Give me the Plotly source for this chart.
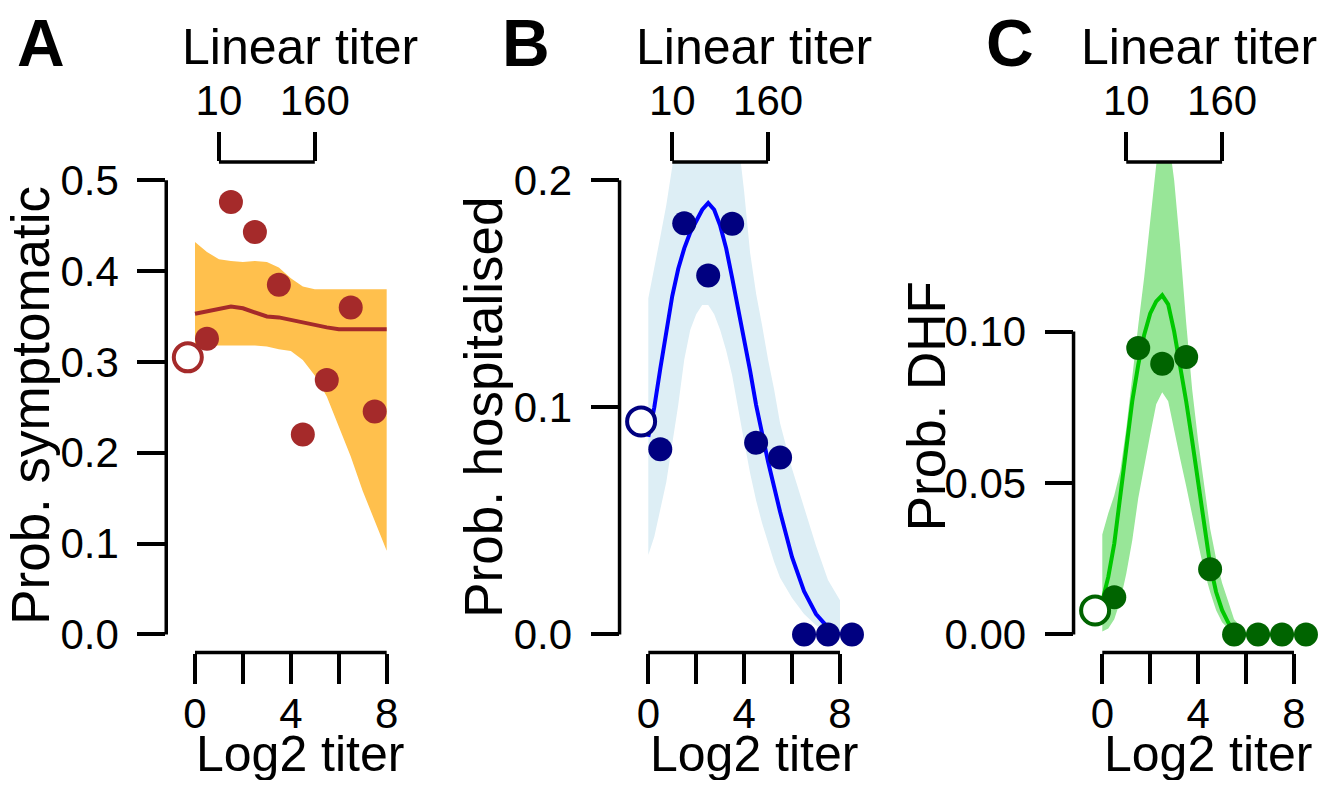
import plotly.graph_objects as go

# The page body has an 8px margin; the figure is sized to fit inside it.
PAGE_W, PAGE_H = 1328, 788
OFF = 8
W, H = PAGE_W - 2 * OFF, PAGE_H - 2 * OFF

# ---------------- data ----------------
pts_x_a = [0.5, 1.5, 2.5, 3.5, 4.5, 5.5, 6.5, 7.5]
pts_x_bc = [0.5, 1.5, 2.5, 3.5, 4.5, 5.5, 6.5, 7.5, 8.5]
open_x = [-0.3]

a_pts = [0.3255, 0.476, 0.443, 0.385, 0.220, 0.280, 0.360, 0.2455]
a_open = [0.305]
b_pts = [0.0815, 0.181, 0.158, 0.1808, 0.0844, 0.0779, 0.0, 0.0, 0.0]
b_open = [0.0938]
c_pts = [0.0123, 0.0946, 0.0894, 0.0916, 0.0215, 0.0, 0.0, 0.0, 0.0]
c_open = [0.0079]

a_grid = [0, 0.5, 1, 1.5, 2, 2.5, 3, 3.5, 4, 4.5, 5, 5.5, 6, 6.5, 7, 7.5, 8]
a_upper = [0.432, 0.421, 0.413, 0.411, 0.410, 0.411, 0.410, 0.404, 0.392, 0.383, 0.380,
           0.380, 0.380, 0.380, 0.380, 0.380, 0.380]
a_lower = [0.318, 0.318, 0.318, 0.318, 0.318, 0.318, 0.317, 0.314, 0.312, 0.302, 0.285,
           0.262, 0.229, 0.196, 0.158, 0.124, 0.092]
a_mean = [0.353, 0.356, 0.359, 0.361, 0.359, 0.355, 0.350, 0.349, 0.346, 0.344, 0.341,
          0.338, 0.336, 0.336, 0.336, 0.336, 0.336]

bc_grid = [0, 0.25, 0.5, 0.75, 1, 1.25, 1.5, 1.75, 2, 2.25, 2.5, 2.75, 3, 3.25, 3.5,
           3.75, 4, 4.25, 4.5, 4.75, 5, 5.25, 5.5, 6, 6.5, 7, 7.5, 8]
b_mean = [0.087, 0.100, 0.117, 0.133, 0.149, 0.161, 0.170, 0.177, 0.182, 0.187, 0.190,
          0.187, 0.180, 0.170, 0.157, 0.144, 0.131, 0.116, 0.101, 0.088, 0.076, 0.065,
          0.054, 0.034, 0.019, 0.009, 0.003, 0.000]
b_upper = [0.148, 0.161, 0.175, 0.189, 0.207, 0.225, 0.240, 0.250, 0.255, 0.258, 0.258,
           0.255, 0.250, 0.240, 0.230, 0.218, 0.195, 0.168, 0.150, 0.136, 0.121, 0.108,
           0.093, 0.073, 0.056, 0.039, 0.024, 0.015]
b_lower = [0.035, 0.043, 0.055, 0.067, 0.083, 0.101, 0.121, 0.134, 0.141, 0.145, 0.145,
           0.141, 0.134, 0.125, 0.114, 0.100, 0.085, 0.071, 0.059, 0.049, 0.040, 0.032,
           0.025, 0.016, 0.009, 0.004, 0.001, 0.000]
c_mean = [0.011, 0.019, 0.030, 0.046, 0.062, 0.077, 0.089, 0.099, 0.106, 0.110, 0.112,
          0.109, 0.100, 0.089, 0.077, 0.064, 0.051, 0.037, 0.023, 0.014, 0.008, 0.004,
          0.001, 0.000, 0.000, 0.000, 0.000, 0.000]
c_upper = [0.033, 0.040, 0.046, 0.054, 0.068, 0.086, 0.102, 0.118, 0.137, 0.155, 0.168,
           0.165, 0.150, 0.128, 0.103, 0.081, 0.064, 0.049, 0.035, 0.025, 0.017, 0.011,
           0.005, 0.0005, 0.0, 0.0, 0.0, 0.0]
c_lower = [0.001, 0.002, 0.005, 0.011, 0.020, 0.031, 0.045, 0.056, 0.066, 0.076, 0.080,
           0.077, 0.068, 0.058, 0.049, 0.040, 0.030, 0.021, 0.014, 0.008, 0.004, 0.002,
           0.001, 0.0, 0.0, 0.0, 0.0, 0.0]

x_ticks = [0, 2, 4, 6, 8]
x_ticktext = ["0", "", "4", "", "8"]
top_ticks = [1, 5]
top_ticktext = ["10", "160"]
a_yticks = [0, 0.1, 0.2, 0.3, 0.4, 0.5]
a_yticktext = ["0.0", "0.1", "0.2", "0.3", "0.4", "0.5"]
b_yticks = [0, 0.1, 0.2]
b_yticktext = ["0.0", "0.1", "0.2"]
c_yticks = [0, 0.05, 0.10]
c_yticktext = ["0.00", "0.05", "0.10"]

ylabels = ["Prob. symptomatic", "Prob. hospitalised", "Prob. DHF"]
letters = ["A", "B", "C"]

# ---------------- styling ----------------
FONT = "Liberation Sans, Arial, Helvetica, sans-serif"
BLACK = "#000000"
LW = 3.5
CURVE_W = 4


def px_x(px):
    return (px - OFF) / W


def px_y(py):
    return 1 - (py - OFF) / H


panels = [
    dict(grid=a_grid, upper=a_upper, lower=a_lower, mean=a_mean, px=pts_x_a, py=a_pts,
         oy=a_open, band="#FFC04D", line="#A52A2A", pt="#A52A2A",
         yr=[-0.02, 0.52], yt=a_yticks, ytt=a_yticktext, x0px=195.0),
    dict(grid=bc_grid, upper=b_upper, lower=b_lower, mean=b_mean, px=pts_x_bc, py=b_pts,
         oy=b_open, band="#DDEEF5", line="#0000FF", pt="#000080",
         yr=[-0.008, 0.208], yt=b_yticks, ytt=b_yticktext, x0px=648.3),
    dict(grid=bc_grid, upper=c_upper, lower=c_lower, mean=c_mean, px=pts_x_bc, py=c_pts,
         oy=c_open, band="#98E698", line="#00C800", pt="#006400",
         yr=[-0.006, 0.156], yt=c_yticks, ytt=c_yticktext, x0px=1102.3),
]

XLEFT, XRIGHT = -1.2, 9.2
PXU = 23.96
ytop_px, ybot_px = 159.0, 656.0
ydom = [px_y(ybot_px), px_y(ytop_px)]

# (x position, anchor) for the "Linear titer" titles
top_title = [(300, "center"), (754, "center"), (1319, "right")]
bottom_title_cx = [300, 754, 1207.5]
ytitle_cx = [31, 483.5, 926.5]
ytitle_cy = [406, 407.5, 407]
letter_cx = [41, 526, 1010]

fig = go.Figure()
shapes = []
annotations = []

for i, p in enumerate(panels):
    n = i + 1
    xa = "x" if n == 1 else f"x{n}"
    ya = "y" if n == 1 else f"y{n}"
    top = f"x{n + 3}"

    left = p["x0px"] + XLEFT * PXU
    right = min(p["x0px"] + XRIGHT * PXU, PAGE_W - OFF - 0.5)
    xr = [XLEFT, (right - p["x0px"]) / PXU]
    dom = [px_x(left), px_x(right)]

    fig.add_trace(go.Scatter(
        x=p["grid"] + p["grid"][::-1], y=p["upper"] + p["lower"][::-1],
        fill="toself", fillcolor=p["band"], line=dict(width=0), mode="lines",
        hoverinfo="skip", xaxis=xa, yaxis=ya))
    fig.add_trace(go.Scatter(
        x=p["grid"], y=p["mean"], mode="lines",
        line=dict(color=p["line"], width=CURVE_W), xaxis=xa, yaxis=ya))
    fig.add_trace(go.Scatter(
        x=p["px"], y=p["py"], mode="markers",
        marker=dict(color=p["pt"], size=24, line=dict(width=0)),
        xaxis=xa, yaxis=ya, cliponaxis=False))
    fig.add_trace(go.Scatter(
        x=open_x, y=p["oy"], mode="markers",
        marker=dict(color="white", size=28, line=dict(width=4, color=p["pt"])),
        xaxis=xa, yaxis=ya, cliponaxis=False))
    # invisible trace so the top (linear titer) axis is drawn
    fig.add_trace(go.Scatter(
        x=top_ticks, y=[None] * len(top_ticks), mode="markers",
        marker=dict(opacity=0), hoverinfo="skip", xaxis=top, yaxis=ya))

    axis_common = dict(showgrid=False, zeroline=False, showline=False,
                       ticks="outside", tickcolor=BLACK, tickwidth=LW,
                       tickfont=dict(family=FONT, size=42, color=BLACK))
    fig.update_layout(**{
        ("xaxis" if n == 1 else f"xaxis{n}"): dict(
            domain=dom, range=xr, anchor=ya, tickvals=x_ticks, ticktext=x_ticktext,
            ticklen=30, ticklabelstandoff=-6, **axis_common),
        ("yaxis" if n == 1 else f"yaxis{n}"): dict(
            domain=ydom, range=p["yr"], anchor=xa, tickvals=p["yt"], ticktext=p["ytt"],
            ticklen=28, ticklabelstandoff=10, **axis_common),
        f"xaxis{n + 3}": dict(
            overlaying=xa, side="top", anchor=ya, range=xr, tickvals=top_ticks,
            ticktext=top_ticktext, ticklen=29, ticklabelstandoff=0, **axis_common),
    })

    shapes.append(dict(type="line", xref=xa, yref=f"{ya} domain",
                       x0=x_ticks[0], x1=x_ticks[-1], y0=0, y1=0,
                       line=dict(color=BLACK, width=LW)))
    shapes.append(dict(type="line", xref=f"{xa} domain", yref=ya,
                       x0=0, x1=0, y0=p["yt"][0], y1=p["yt"][-1],
                       line=dict(color=BLACK, width=LW)))
    shapes.append(dict(type="line", xref=xa, yref=f"{ya} domain",
                       x0=top_ticks[0], x1=top_ticks[-1], y0=1, y1=1,
                       line=dict(color=BLACK, width=LW)))

    tx, tanchor = top_title[i]
    annotations.append(dict(text="Linear titer", x=px_x(tx), y=px_y(42.5),
                            xref="paper", yref="paper", showarrow=False,
                            xanchor=tanchor, yanchor="middle",
                            font=dict(family=FONT, size=50, color=BLACK)))
    annotations.append(dict(text="Log2 titer", x=px_x(bottom_title_cx[i]), y=px_y(759),
                            xref="paper", yref="paper", showarrow=False,
                            xanchor="center", yanchor="middle",
                            font=dict(family=FONT, size=50, color=BLACK)))
    annotations.append(dict(text=ylabels[i], x=px_x(ytitle_cx[i]), y=px_y(ytitle_cy[i]),
                            xref="paper", yref="paper", showarrow=False, textangle=-90,
                            xanchor="center", yanchor="middle",
                            font=dict(family=FONT, size=53, color=BLACK)))
    annotations.append(dict(text=f"<b>{letters[i]}</b>", x=px_x(letter_cx[i]), y=px_y(38),
                            xref="paper", yref="paper", showarrow=False,
                            xanchor="center", yanchor="middle",
                            font=dict(family=FONT, size=66, color=BLACK)))

fig.update_layout(width=W, height=H, margin=dict(l=0, r=0, t=0, b=0),
                  paper_bgcolor="white", plot_bgcolor="white", showlegend=False,
                  shapes=shapes, annotations=annotations)

fig.write_html("out.html")
